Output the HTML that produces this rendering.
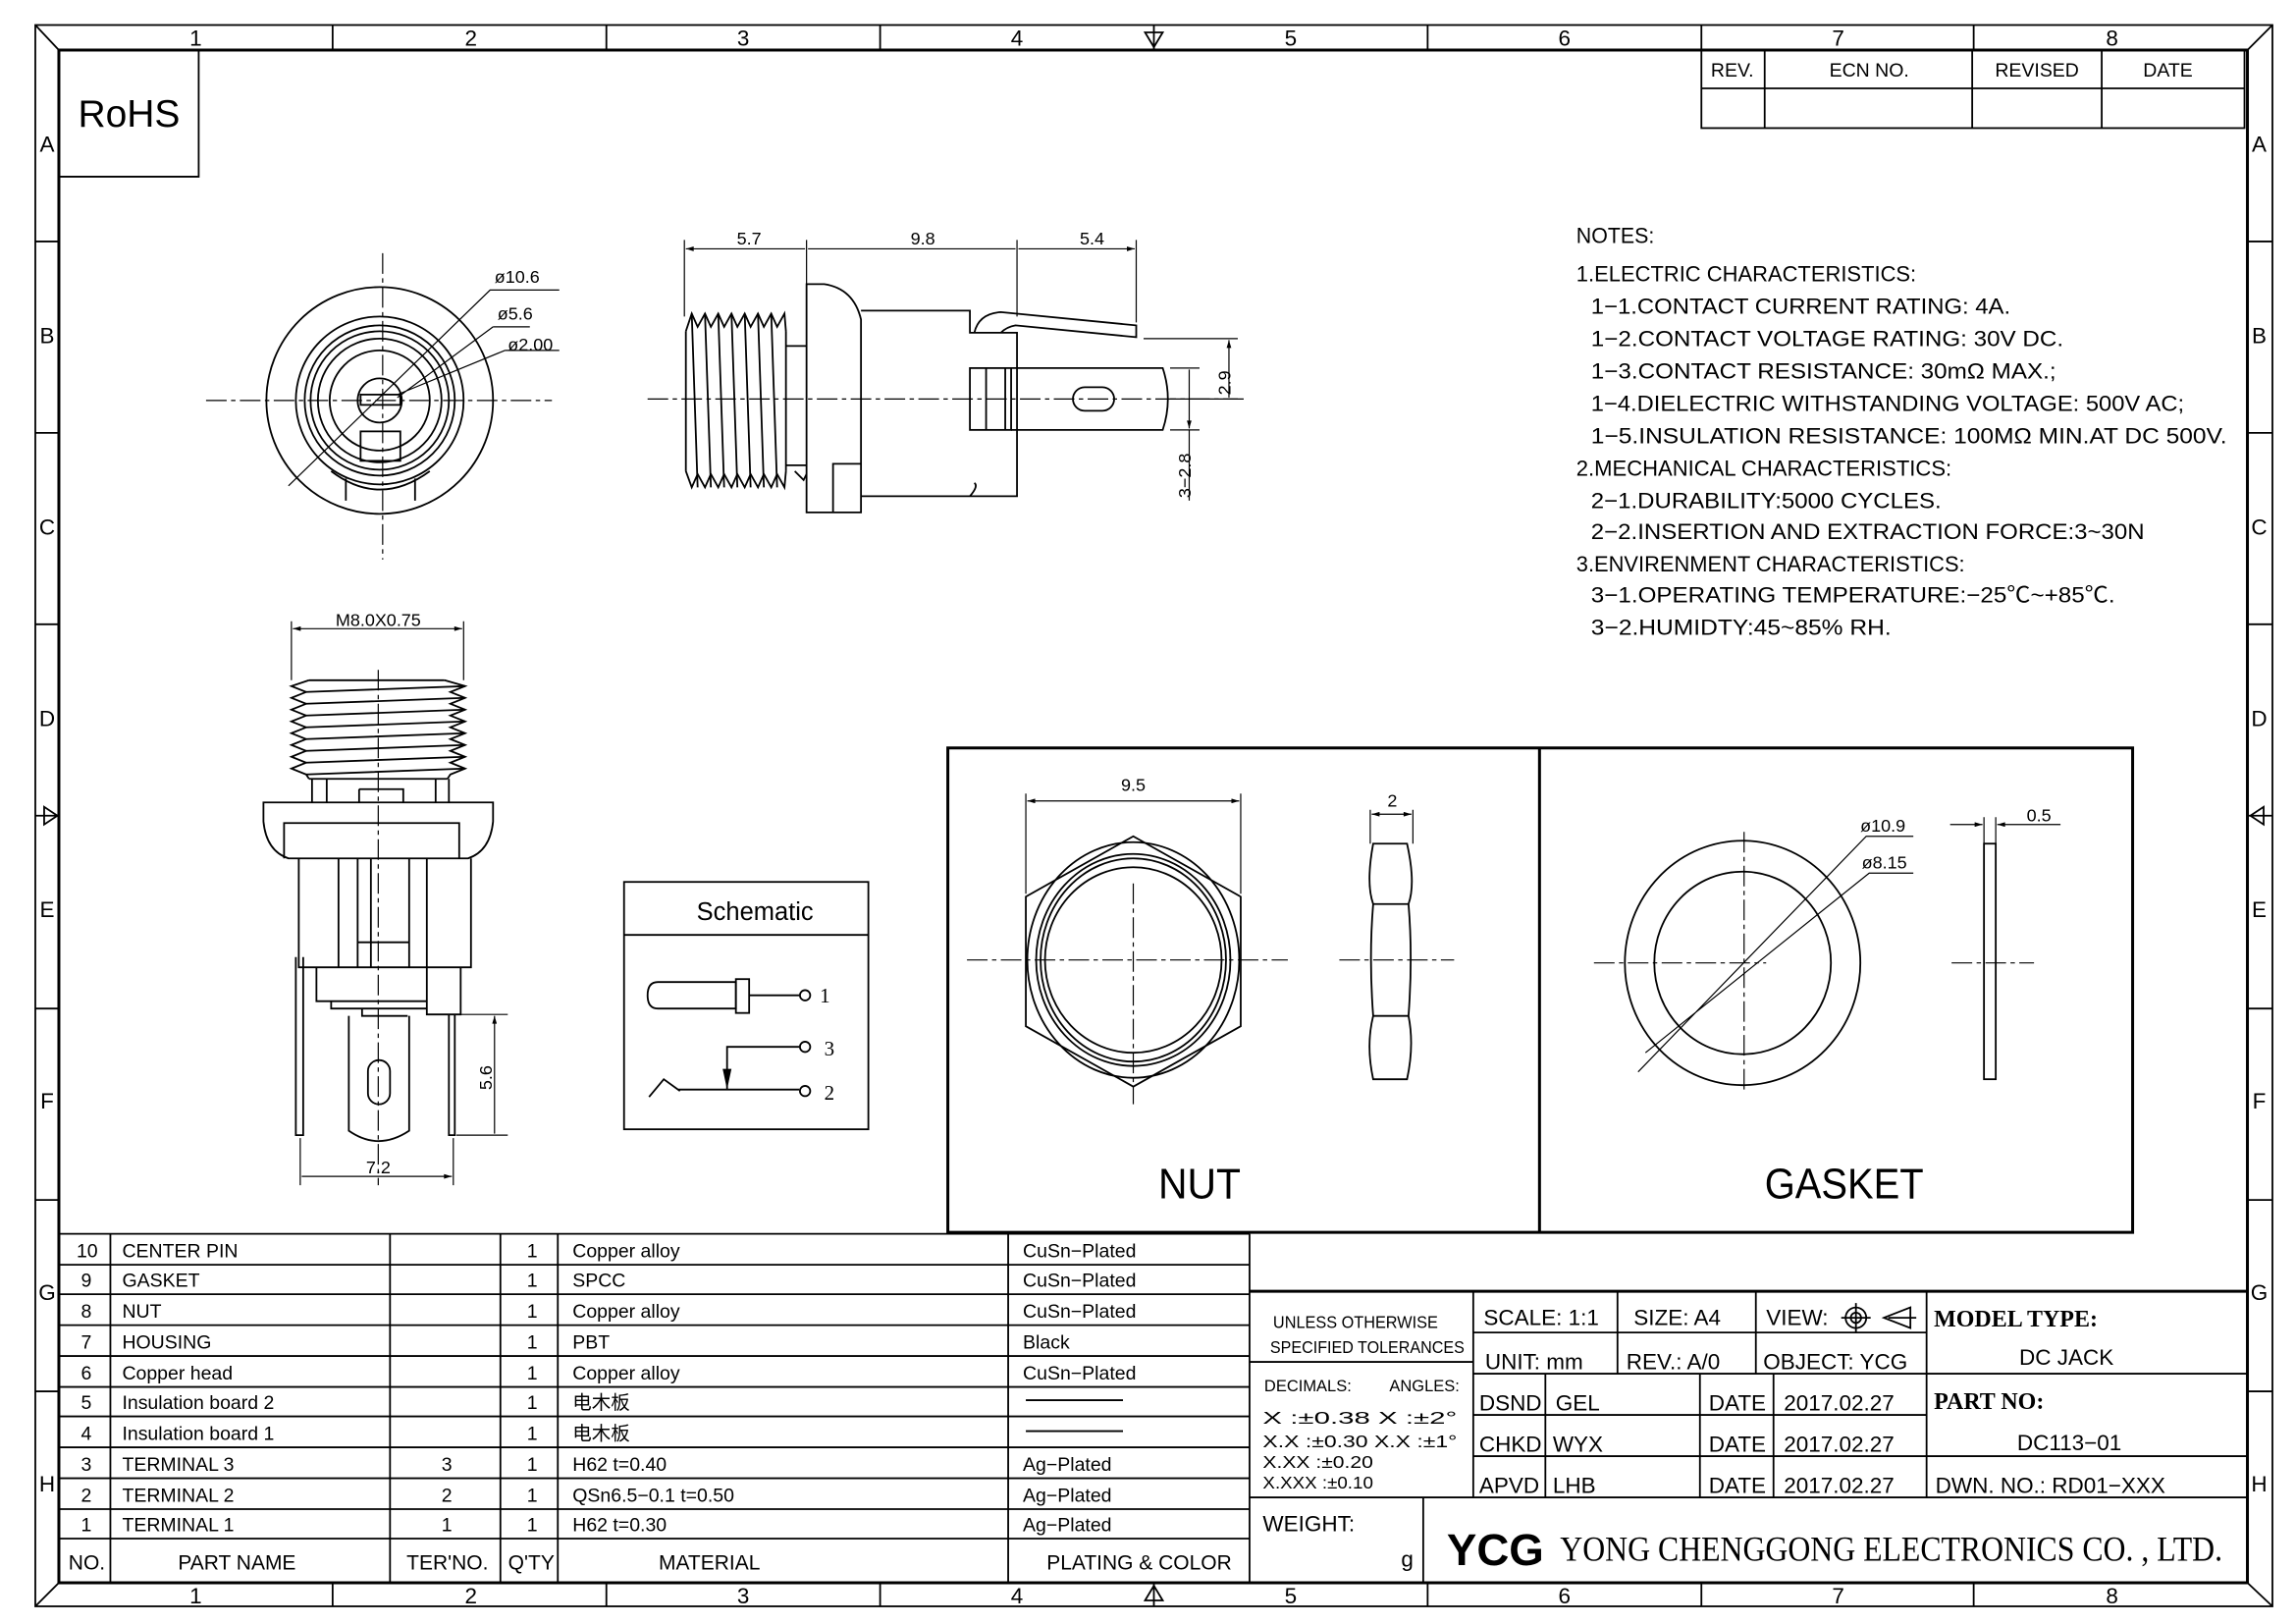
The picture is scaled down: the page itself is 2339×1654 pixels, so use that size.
<!DOCTYPE html>
<html><head><meta charset="utf-8"><style>
html,body{margin:0;padding:0;background:#fff}
svg{display:block}
text{font-family:"Liberation Sans","Noto Sans CJK SC",sans-serif;fill:#000}
.s{fill:none;stroke:#000;stroke-width:1.2}
.t{fill:none;stroke:#000;stroke-width:2}
.c{fill:none;stroke:#000;stroke-width:0.8;stroke-dasharray:14 3 3 3}
.d{fill:none;stroke:#000;stroke-width:0.8}
</style></head><body>
<svg width="2339" height="1654" viewBox="0 0 1560 1103" preserveAspectRatio="none" xmlns="http://www.w3.org/2000/svg">
<defs>
<marker id="a" viewBox="0 0 10 6" refX="10" refY="3" markerWidth="8" markerHeight="4" orient="auto-start-reverse"><path d="M0,0 L10,3 L0,6z" fill="#000"/></marker>
</defs>
<!-- frame -->
<rect x="24" y="17" width="1520" height="1074" class="s"/>
<rect x="40" y="34" width="1487" height="1041" class="t"/>
<path class="s" d="M24,17 L40,34 M1544,17 L1527,34 M24,1091 L40,1075 M1544,1091 L1527,1075"/>
<path class="s" d="M226,17V34 M412,17V34 M598,17V34 M784,17V34 M970,17V34 M1156,17V34 M1341,17V34
M226,1075V1091 M412,1075V1091 M598,1075V1091 M784,1075V1091 M970,1075V1091 M1156,1075V1091 M1341,1075V1091
M24,164H40 M24,294H40 M24,424H40 M24,554H40 M24,685H40 M24,815H40 M24,945H40
M1527,164H1544 M1527,294H1544 M1527,424H1544 M1527,554H1544 M1527,685H1544 M1527,815H1544 M1527,945H1544"/>
<path class="s" d="M778,22 L790,22 L784,32z M778,1087 L790,1087 L784,1077z M30,548 L30,560 L39,554z M1538,548 L1538,560 L1529,554z"/>
<g font-size="15" text-anchor="middle">
<text x="133" y="31">1</text><text x="320" y="31">2</text><text x="505" y="31">3</text><text x="691" y="31">4</text><text x="877" y="31">5</text><text x="1063" y="31">6</text><text x="1249" y="31">7</text><text x="1435" y="31">8</text>
<text x="133" y="1089">1</text><text x="320" y="1089">2</text><text x="505" y="1089">3</text><text x="691" y="1089">4</text><text x="877" y="1089">5</text><text x="1063" y="1089">6</text><text x="1249" y="1089">7</text><text x="1435" y="1089">8</text>
<text x="32" y="103">A</text><text x="32" y="233">B</text><text x="32" y="363">C</text><text x="32" y="493">D</text><text x="32" y="623">E</text><text x="32" y="753">F</text><text x="32" y="883">G</text><text x="32" y="1013">H</text>
<text x="1535" y="103">A</text><text x="1535" y="233">B</text><text x="1535" y="363">C</text><text x="1535" y="493">D</text><text x="1535" y="623">E</text><text x="1535" y="753">F</text><text x="1535" y="883">G</text><text x="1535" y="1013">H</text>
</g>
<!-- RoHS -->
<path class="s" d="M40,120H135V34"/>
<text x="53" y="86" font-size="26">RoHS</text>
<!-- revision table -->
<rect x="1156" y="34" width="369" height="53" class="s"/>
<path class="s" d="M1156,60H1525 M1199,34V87 M1340,34V87 M1428,34V87"/>
<g font-size="13" text-anchor="middle"><text x="1177" y="52">REV.</text><text x="1270" y="52">ECN NO.</text><text x="1384" y="52">REVISED</text><text x="1473" y="52">DATE</text></g>

<!-- front view -->
<g>
<path class="c" d="M140,272H375 M260,172V380"/>
<circle cx="258" cy="272" r="77" class="s"/>
<circle cx="258" cy="272" r="57" class="s"/>
<circle cx="258" cy="272" r="51" class="s"/>
<circle cx="258" cy="272" r="47" class="s"/>
<circle cx="258" cy="272" r="42" class="s"/>
<circle cx="258" cy="272" r="34" class="s"/>
<circle cx="258" cy="272" r="15" class="s"/>
<rect x="245" y="268" width="27" height="7" class="s"/>
<rect x="245" y="293" width="27" height="20" class="s"/>
<path class="s" d="M225,320 Q258,345 292,320 M235,325V340 M282,325V340"/>
<path class="d" d="M196,330 L333,197 H380 M335,222 H360 M343,238 H380 M335,222 L270,270 M343,238 L270,268"/>
<g font-size="12"><text x="336" y="192">ø10.6</text><text x="338" y="217">ø5.6</text><text x="345" y="238">ø2.00</text></g>
</g>

<!-- side view -->
<g>
<path class="c" d="M440,271H845"/>
<polyline class="s" points="466,225 470,213 474,222 479,213 483,222 488,213 492,222 497,213 501,222 506,213 510,222 515,213 519,222 524,213 528,222 533,213 534,225"/>
<polyline class="s" points="466,320 470,331 474,322 479,331 483,322 488,331 492,322 497,331 501,322 506,331 510,322 515,331 519,322 524,331 528,322 533,331 534,320"/>
<path class="s" d="M466,225V320 M534,225V320 M470,213L474,331 M479,213L483,331 M488,213L492,331 M497,213L501,331 M506,213L510,331 M515,213L519,331 M524,213L528,331 M534,235H548 M534,316H548 M540,320 L546,326 L548,322"/>
<path class="s" d="M548,348V193 H560 Q580,196 585,217 V348z M566,348V315 H585"/>
<path class="s" d="M585,211 H659 V226 H691 V337 H585 M585,337 H659 M659,337 Q665,330 662,328"/>
<path class="s" d="M662,226 Q665,213 680,212 L772,221 L772,229 L690,221 Q684,222 680,226"/>
<rect x="659" y="250" width="28" height="42" class="s"/>
<path class="s" d="M670,250V292 M683,250V292 M687,250 H790 Q797,271 790,292 H687"/>
<rect x="729" y="263" width="28" height="16" rx="8" class="s"/>
<path class="d" d="M465,215V163 M548,195V163 M691,215V163 M772,219V163"/>
<path class="d" marker-start="url(#a)" marker-end="url(#a)" d="M466,169H547 M549,169H690 M692,169H771"/>
<g font-size="12" text-anchor="middle"><text x="509" y="166">5.7</text><text x="627" y="166">9.8</text><text x="742" y="166">5.4</text></g>
<path class="d" d="M777,230H841 M795,271H841 M795,250H815 M795,292H815"/>
<path class="d" marker-start="url(#a)" marker-end="url(#a)" d="M835,231V270 M808,251V291"/>
<path class="d" d="M808,292V340"/>
<text font-size="12" transform="translate(836,260) rotate(-90)" text-anchor="middle">2.9</text>
<text font-size="12" transform="translate(809,323) rotate(-90)" text-anchor="middle">3−2.8</text>
</g>

<!-- bottom view -->
<g>
<path class="c" d="M257,455V805"/>
<path class="d" d="M198,462V422 M315,462V422"/>
<path class="d" marker-start="url(#a)" marker-end="url(#a)" d="M199,427H314"/>
<text x="257" y="425" font-size="12" text-anchor="middle">M8.0X0.75</text>
<polyline class="s" points="210,462 198,466 208,470 198,474 208,478 198,482 208,486 198,490 208,494 198,498 208,502 198,506 208,510 198,514 208,518 198,522 208,526 210,529"/>
<polyline class="s" points="302,462 316,466 306,470 316,474 306,478 316,482 306,486 316,490 306,494 316,498 306,502 316,506 306,510 316,514 306,518 316,522 306,526 304,529"/>
<path class="s" d="M210,462H302 M208,470L316,466 M208,478L316,474 M208,486L316,482 M208,494L316,490 M208,502L316,498 M208,510L316,506 M208,518L316,514 M208,526L316,522 M210,529H304"/>
<path class="s" d="M212,529V545 M305,529V545 M222,529V545 M296,529V545 M244,536H274V545 M244,536V545"/>
<path class="s" d="M179,545H335V558 Q333,578 318,583 H196 Q181,578 179,558z"/>
<path class="s" d="M193,583V559H312V583"/>
<path class="s" d="M203,583V657H320V583 M230,583V657 M243,583V657 M290,583V657 M252,583V657 M278,583V657 M243,640H278"/>
<path class="s" d="M290,657V689H313V657 M215,657V680H290 M225,680V685H290 M246,685V690H277"/>
<path class="s" d="M237,690V768 Q257,782 278,768 V690"/>
<rect x="250" y="720" width="15" height="30" rx="7.5" class="s"/>
<path class="s" d="M201,650V771H206V650 M305,689V771H309V689"/>
<path class="d" d="M312,689H345 M310,771H345 M204,773V805 M308,773V805"/>
<path class="d" marker-start="url(#a)" marker-end="url(#a)" d="M336,690V770 M205,799H307"/>
<text font-size="12" transform="translate(334,732) rotate(-90)" text-anchor="middle">5.6</text>
<text x="257" y="797" font-size="12" text-anchor="middle">7.2</text>
</g>

<!-- schematic -->
<g>
<rect x="424" y="599" width="166" height="168" class="s"/>
<path class="s" d="M424,635H590"/>
<text x="513" y="625" font-size="17" text-anchor="middle">Schematic</text>
<path class="s" d="M500,667H447 Q440,667 440,676 Q440,685 447,685 H500z"/>
<rect x="500" y="665" width="9" height="23" class="s"/>
<path class="s" d="M509,676H543 M543,711H494V740 M461,740H543 M441,745L451,733L462,741"/>
<path d="M491,726L497,726L494,740z" fill="#000"/>
<circle cx="547" cy="676" r="3.5" class="s"/><circle cx="547" cy="711" r="3.5" class="s"/><circle cx="547" cy="741" r="3.5" class="s"/>
<g font-family="Liberation Serif" font-size="14"><text x="557" y="681" style="font-family:'Liberation Serif',serif">1</text><text x="560" y="717" style="font-family:'Liberation Serif',serif">3</text><text x="560" y="747" style="font-family:'Liberation Serif',serif">2</text></g>
</g>

<!-- nut / gasket box -->
<rect x="644" y="508" width="805" height="329" class="t"/>
<path class="t" d="M1046,508V837"/>
<g>
<path class="c" d="M657,652H875 M770,600V750 M910,652H988 M1083,654H1200 M1185,565V740 M1326,654H1382"/>
<path class="s" d="M770,568 L843,609 V697 L770,738 L697,697 V609z"/>
<ellipse cx="770" cy="652" rx="72" ry="80" class="s"/>
<ellipse cx="770" cy="652" rx="66" ry="72" class="s"/>
<ellipse cx="770" cy="652" rx="63" ry="69" class="s"/>
<ellipse cx="770" cy="652" rx="60" ry="63" class="s"/>
<path class="d" d="M697,607V539 M843,607V539"/>
<path class="d" marker-start="url(#a)" marker-end="url(#a)" d="M698,544H842"/>
<text x="770" y="537" font-size="12" text-anchor="middle">9.5</text>
<path class="s" d="M933,573H956 Q962,600 957,614 H933 Q928,600 933,573z M933,614 Q930,650 933,690 H957 Q960,650 957,614 M933,690 Q928,710 933,733 H956 Q961,710 957,690"/>
<path class="d" d="M931,573V550 M960,573V550"/>
<path class="d" marker-start="url(#a)" marker-end="url(#a)" d="M932,553H959"/>
<text x="946" y="548" font-size="12" text-anchor="middle">2</text>
<text x="815" y="814" font-size="29" text-anchor="middle" textLength="56" lengthAdjust="spacingAndGlyphs">NUT</text>
<ellipse cx="1184" cy="654" rx="80" ry="83" class="s"/>
<ellipse cx="1184" cy="654" rx="60" ry="62" class="s"/>
<path class="d" d="M1113,728 L1268,568 H1300 M1118,715 L1270,593 H1300"/>
<g font-size="12"><text x="1264" y="565">ø10.9</text><text x="1265" y="590">ø8.15</text></g>
<rect x="1348" y="573" width="8" height="160" class="s"/>
<path class="d" d="M1348,575V555 M1356,575V555"/>
<path class="d" marker-end="url(#a)" d="M1325,560H1347"/>
<path class="d" marker-end="url(#a)" d="M1400,560H1357"/>
<text x="1377" y="558" font-size="12">0.5</text>
<text x="1253" y="814" font-size="29" text-anchor="middle" textLength="108" lengthAdjust="spacingAndGlyphs">GASKET</text>
</g>

<!-- notes -->
<g font-size="15" lengthAdjust="spacingAndGlyphs">
<text x="1071" y="165" textLength="53" lengthAdjust="spacingAndGlyphs">NOTES:</text>
<text x="1071" y="191" textLength="231" lengthAdjust="spacingAndGlyphs">1.ELECTRIC  CHARACTERISTICS:</text>
<text x="1081" y="213" textLength="285" lengthAdjust="spacingAndGlyphs">1−1.CONTACT  CURRENT  RATING:  4A.</text>
<text x="1081" y="235" textLength="321" lengthAdjust="spacingAndGlyphs">1−2.CONTACT  VOLTAGE  RATING:  30V  DC.</text>
<text x="1081" y="257" textLength="316" lengthAdjust="spacingAndGlyphs">1−3.CONTACT  RESISTANCE:  30mΩ  MAX.;</text>
<text x="1081" y="279" textLength="403" lengthAdjust="spacingAndGlyphs">1−4.DIELECTRIC  WITHSTANDING  VOLTAGE:  500V  AC;</text>
<text x="1081" y="301" textLength="432" lengthAdjust="spacingAndGlyphs">1−5.INSULATION  RESISTANCE:  100MΩ  MIN.AT  DC  500V.</text>
<text x="1071" y="323" textLength="255" lengthAdjust="spacingAndGlyphs">2.MECHANICAL  CHARACTERISTICS:</text>
<text x="1081" y="345" textLength="238" lengthAdjust="spacingAndGlyphs">2−1.DURABILITY:5000  CYCLES.</text>
<text x="1081" y="366" textLength="376" lengthAdjust="spacingAndGlyphs">2−2.INSERTION  AND  EXTRACTION  FORCE:3~30N</text>
<text x="1071" y="388" textLength="264" lengthAdjust="spacingAndGlyphs">3.ENVIRENMENT  CHARACTERISTICS:</text>
<text x="1081" y="409" textLength="356" lengthAdjust="spacingAndGlyphs">3−1.OPERATING  TEMPERATURE:−25℃~+85℃.</text>
<text x="1081" y="431" textLength="204" lengthAdjust="spacingAndGlyphs">3−2.HUMIDTY:45~85% RH.</text>
</g>

<!-- BOM -->
<g>
<path class="s" d="M40,838H849 M40,859H849 M40,879H849 M40,900H849 M40,921H849 M40,942H849 M40,962H849 M40,983H849 M40,1004H849 M40,1025H849 M40,1045H849"/>
<path class="s" d="M75,838V1075 M265,838V1075 M340,838V1075 M379,838V1075 M685,838V1075 M849,838V1075"/>
<g font-size="13">
<text x="52" y="854">10</text><text x="83" y="854">CENTER  PIN</text><text x="358" y="854">1</text><text x="389" y="854">Copper  alloy</text><text x="695" y="854">CuSn−Plated</text>
<text x="55" y="874">9</text><text x="83" y="874">GASKET</text><text x="358" y="874">1</text><text x="389" y="874">SPCC</text><text x="695" y="874">CuSn−Plated</text>
<text x="55" y="895">8</text><text x="83" y="895">NUT</text><text x="358" y="895">1</text><text x="389" y="895">Copper  alloy</text><text x="695" y="895">CuSn−Plated</text>
<text x="55" y="916">7</text><text x="83" y="916">HOUSING</text><text x="358" y="916">1</text><text x="389" y="916">PBT</text><text x="695" y="916">Black</text>
<text x="55" y="937">6</text><text x="83" y="937">Copper  head</text><text x="358" y="937">1</text><text x="389" y="937">Copper  alloy</text><text x="695" y="937">CuSn−Plated</text>
<text x="55" y="957">5</text><text x="83" y="957">Insulation  board  2</text><text x="358" y="957">1</text><text x="389" y="957">电木板</text>
<text x="55" y="978">4</text><text x="83" y="978">Insulation  board  1</text><text x="358" y="978">1</text><text x="389" y="978">电木板</text>
<text x="55" y="999">3</text><text x="83" y="999">TERMINAL  3</text><text x="300" y="999">3</text><text x="358" y="999">1</text><text x="389" y="999">H62  t=0.40</text><text x="695" y="999">Ag−Plated</text>
<text x="55" y="1020">2</text><text x="83" y="1020">TERMINAL  2</text><text x="300" y="1020">2</text><text x="358" y="1020">1</text><text x="389" y="1020">QSn6.5−0.1  t=0.50</text><text x="695" y="1020">Ag−Plated</text>
<text x="55" y="1040">1</text><text x="83" y="1040">TERMINAL  1</text><text x="300" y="1040">1</text><text x="358" y="1040">1</text><text x="389" y="1040">H62  t=0.30</text><text x="695" y="1040">Ag−Plated</text>
</g>
<path class="s" d="M697,951H763 M697,972H763"/>
<g font-size="14" text-anchor="middle">
<text x="59" y="1066">NO.</text><text x="161" y="1066">PART  NAME</text><text x="304" y="1066">TER'NO.</text><text x="361" y="1066">Q'TY</text><text x="482" y="1066">MATERIAL</text><text x="774" y="1066">PLATING  &amp;  COLOR</text>
</g>
</g>

<!-- title block -->
<g>
<path class="t" d="M849,877H1527"/>
<path class="s" d="M1001,905H1309 M1001,933H1527 M1001,961H1309 M1001,989H1527 M849,1017H1527 M849,925H1001"/>
<path class="s" d="M1001,877V1017 M1099,877V933 M1193,877V933 M1309,877V1017 M1050,933V1017 M1155,933V1017 M1205,933V1017 M967,1017V1075"/>
<g font-size="15">
<text x="865" y="902" font-size="12" textLength="112" lengthAdjust="spacingAndGlyphs">UNLESS  OTHERWISE</text>
<text x="863" y="919" font-size="12" textLength="132" lengthAdjust="spacingAndGlyphs">SPECIFIED  TOLERANCES</text>
<text x="859" y="945" font-size="11">DECIMALS:</text><text x="944" y="945" font-size="11">ANGLES:</text>
<text x="858" y="967" font-size="12" textLength="132" lengthAdjust="spacingAndGlyphs">X      :±0.38  X   :±2°</text>
<text x="858" y="983" font-size="12" textLength="132" lengthAdjust="spacingAndGlyphs">X.X    :±0.30  X.X :±1°</text>
<text x="858" y="997" font-size="12" textLength="75" lengthAdjust="spacingAndGlyphs">X.XX  :±0.20</text>
<text x="858" y="1011" font-size="12" textLength="75" lengthAdjust="spacingAndGlyphs">X.XXX :±0.10</text>
<text x="858" y="1040">WEIGHT:</text><text x="952" y="1064">g</text>
<text x="1008" y="900">SCALE:  1:1</text><text x="1110" y="900">SIZE:  A4</text><text x="1200" y="900">VIEW:</text>
<text x="1009" y="930">UNIT:  mm</text><text x="1105" y="930">REV.: A/0</text><text x="1198" y="930">OBJECT:  YCG</text>
<text x="1005" y="958">DSND</text><text x="1057" y="958">GEL</text><text x="1161" y="958">DATE</text><text x="1212" y="958">2017.02.27</text>
<text x="1005" y="986">CHKD</text><text x="1055" y="986">WYX</text><text x="1161" y="986">DATE</text><text x="1212" y="986">2017.02.27</text>
<text x="1005" y="1014">APVD</text><text x="1055" y="1014">LHB</text><text x="1161" y="1014">DATE</text><text x="1212" y="1014">2017.02.27</text>
<text x="1315" y="1014">DWN.  NO.:  RD01−XXX</text>
<text x="1404" y="927" text-anchor="middle">DC  JACK</text>
<text x="1406" y="985" text-anchor="middle">DC113−01</text>
</g>
<g style="font-family:'Liberation Serif',serif" font-weight="bold" font-size="16">
<text x="1314" y="901" style="font-family:'Liberation Serif',serif">MODEL  TYPE:</text>
<text x="1314" y="957" style="font-family:'Liberation Serif',serif">PART  NO:</text>
</g>
<circle cx="1261" cy="895" r="7" class="s"/><circle cx="1261" cy="895" r="3.5" class="s"/><path class="s" d="M1251,895H1271 M1261,885V905 M1280,895 L1298,888 V902z M1283,895H1302"/>
<text x="983" y="1063" font-size="30" font-weight="bold" textLength="66" lengthAdjust="spacingAndGlyphs">YCG</text>
<text x="1060" y="1060" font-size="24" style="font-family:'Liberation Serif',serif" textLength="450" lengthAdjust="spacingAndGlyphs">YONG  CHENGGONG  ELECTRONICS  CO. , LTD.</text>
</g>
</svg>
</body></html>
